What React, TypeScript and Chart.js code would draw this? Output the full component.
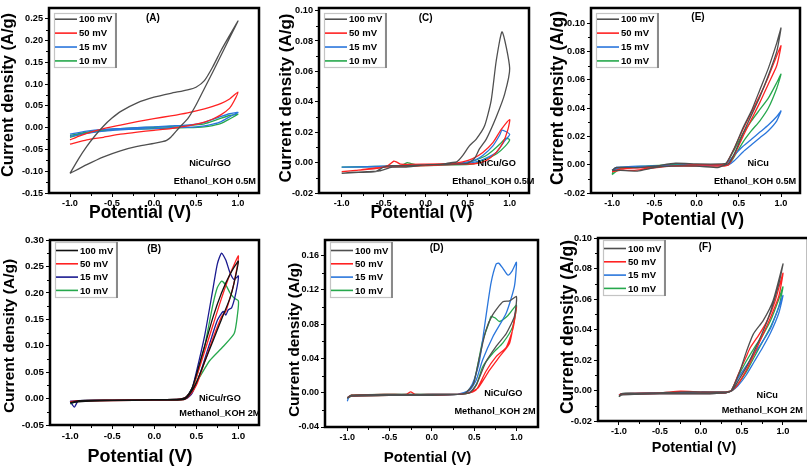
import React, { useEffect, useRef } from "react";
import { Chart, registerables } from "chart.js";
Chart.register(...registerables);

const FONT = "'Liberation Sans', Arial, Helvetica, sans-serif";
const SCAN_RATES = ["100 mV", "50 mV", "15 mV", "10 mV"];
const X_TICKS = [-1.0, -0.5, 0.0, 0.5, 1.0];

const A_TICKS = [-0.15, -0.1, -0.05, 0.0, 0.05, 0.1, 0.15, 0.2, 0.25];
const A100_V = [-1.0, -0.9, -0.8, -0.7, -0.6, -0.5, -0.4, -0.2, 0, 0.2, 0.4, 0.5, 0.6, 0.7, 0.8, 0.9, 1.0, 0.9, 0.8, 0.7, 0.6, 0.5, 0.4, 0.3, 0.2, 0.15, 0.1, 0, -0.2, -0.4, -0.6, -0.8, -1.0];
const A100_J = [-0.105, -0.072, -0.043, -0.018, 0.004, 0.022, 0.037, 0.057, 0.07, 0.079, 0.087, 0.093, 0.108, 0.14, 0.178, 0.212, 0.245, 0.206, 0.167, 0.128, 0.09, 0.052, 0.02, 0.0, -0.022, -0.029, -0.032, -0.036, -0.043, -0.053, -0.067, -0.085, -0.105];
const A50_V = [-1.0, -0.9, -0.8, -0.6, -0.4, -0.2, 0, 0.2, 0.4, 0.6, 0.7, 0.8, 0.9, 1.0, 0.95, 0.9, 0.8, 0.7, 0.6, 0.5, 0.4, 0.2, 0, -0.2, -0.4, -0.6, -0.8, -1.0];
const A50_J = [-0.028, -0.02, -0.013, -0.002, 0.006, 0.014, 0.021, 0.027, 0.034, 0.043, 0.049, 0.056, 0.066, 0.082, 0.06, 0.045, 0.03, 0.02, 0.013, 0.008, 0.004, -0.002, -0.006, -0.01, -0.015, -0.022, -0.028, -0.038];
const A15_V = [-1.0, -0.8, -0.6, -0.4, -0.2, 0, 0.2, 0.4, 0.5, 0.6, 0.7, 0.8, 0.9, 1.0, 0.9, 0.8, 0.7, 0.6, 0.5, 0.4, 0.2, 0, -0.2, -0.4, -0.6, -0.8, -1.0];
const A15_J = [-0.015, -0.008, -0.004, -0.002, 0.0, 0.002, 0.004, 0.006, 0.008, 0.012, 0.019, 0.026, 0.032, 0.035, 0.025, 0.014, 0.008, 0.004, 0.002, 0.001, 0.0, -0.002, -0.003, -0.005, -0.008, -0.013, -0.02];
const A10_V = [-1.0, -0.8, -0.6, -0.4, -0.2, 0, 0.2, 0.4, 0.6, 0.7, 0.8, 0.9, 1.0, 0.9, 0.8, 0.7, 0.6, 0.4, 0.2, 0, -0.2, -0.4, -0.6, -0.8, -1.0];
const A10_J = [-0.018, -0.01, -0.005, -0.002, 0.0, 0.001, 0.003, 0.005, 0.009, 0.015, 0.022, 0.028, 0.031, 0.02, 0.01, 0.005, 0.002, 0.0, -0.001, -0.002, -0.003, -0.004, -0.007, -0.012, -0.022];

const C_TICKS = [-0.02, 0.0, 0.02, 0.04, 0.06, 0.08, 0.1];
const C100_V = [-1.0, -0.8, -0.6, -0.5, -0.4, -0.25, 0, 0.2, 0.3, 0.37, 0.44, 0.52, 0.6, 0.7, 0.78, 0.84, 0.91, 1.0, 0.94, 0.84, 0.72, 0.64, 0.58, 0.5, 0.3, 0, -0.25, -0.4, -0.55, -0.7, -0.9, -1.0];
const C100_J = [-0.007, -0.0065, -0.006, -0.003, -0.002, -0.002, -0.0015, -0.001, 0.0, 0.0005, 0.0046, 0.011, 0.0153, 0.024, 0.041, 0.067, 0.086, 0.062, 0.045, 0.03, 0.0153, 0.009, 0.0026, -0.0005, -0.001, -0.0015, -0.003, -0.003, -0.0055, -0.006, -0.0065, -0.007];
const C50_V = [-1.0, -0.8, -0.6, -0.45, -0.38, -0.35, -0.3, 0, 0.3, 0.44, 0.56, 0.68, 0.8, 0.9, 1.0, 0.98, 0.92, 0.84, 0.72, 0.6, 0.4, 0.2, 0, -0.3, -0.6, -0.8, -1.0];
const C50_J = [-0.006, -0.005, -0.004, -0.002, 0.001, 0.0005, -0.001, -0.001, -0.0005, 0.0005, 0.0026, 0.0067, 0.0131, 0.0218, 0.0283, 0.022, 0.013, 0.0067, 0.0013, -0.0006, -0.001, -0.0015, -0.002, -0.0025, -0.0035, -0.005, -0.006];
const C15_V = [-1.0, -0.6, -0.3, 0, 0.3, 0.5, 0.6, 0.68, 0.8, 0.88, 0.91, 1.0, 0.94, 0.84, 0.72, 0.6, 0.4, 0, -0.4, -0.8, -1.0];
const C15_J = [-0.003, -0.0025, -0.002, -0.0015, -0.001, 0.0005, 0.002, 0.0046, 0.011, 0.018, 0.0214, 0.0186, 0.0143, 0.0067, 0.003, 0.0005, -0.001, -0.0015, -0.0025, -0.003, -0.003];
const C10_V = [-1.0, -0.6, -0.3, -0.22, -0.18, -0.1, 0.3, 0.5, 0.7, 0.8, 0.9, 0.95, 1.0, 0.95, 0.85, 0.7, 0.55, 0.3, 0, -0.5, -1.0];
const C10_J = [-0.003, -0.0025, -0.002, 0.0, -0.0005, -0.0015, -0.001, 0.0, 0.004, 0.008, 0.013, 0.016, 0.015, 0.011, 0.006, 0.002, -0.001, -0.0015, -0.002, -0.0025, -0.003];

const E_TICKS = [-0.02, 0.0, 0.02, 0.04, 0.06, 0.08, 0.1];
const E100_V = [-1.0, -0.95, -0.7, -0.5, -0.25, 0, 0.3, 0.35, 0.45, 0.55, 0.65, 0.75, 0.85, 0.95, 1.0, 0.95, 0.85, 0.75, 0.65, 0.55, 0.45, 0.38, 0.3, 0.25, 0, -0.3, -0.5, -0.7, -0.9, -1.0];
const E100_J = [-0.004, -0.002, -0.002, -0.001, 0.001, 0.0005, 0.0005, 0.001, 0.012, 0.026, 0.038, 0.053, 0.068, 0.086, 0.0965, 0.08, 0.063, 0.048, 0.035, 0.022, 0.008, 0.001, -0.001, -0.002, -0.001, -0.001, -0.002, -0.0045, -0.004, -0.004];
const E50_V = [-1.0, -0.9, -0.6, -0.3, 0, 0.3, 0.35, 0.45, 0.55, 0.65, 0.75, 0.85, 0.95, 1.0, 0.95, 0.85, 0.75, 0.65, 0.55, 0.45, 0.38, 0.3, 0, -0.3, -0.6, -0.75, -0.9, -1.0];
const E50_J = [-0.005, -0.003, -0.002, -0.001, 0.0, 0.0, 0.0005, 0.012, 0.025, 0.037, 0.049, 0.062, 0.077, 0.084, 0.07, 0.057, 0.044, 0.032, 0.02, 0.007, 0.0, -0.001, -0.001, -0.001, -0.003, -0.004, -0.004, -0.005];
const E15_V = [-1.0, -0.95, -0.6, -0.3, 0, 0.3, 0.35, 0.45, 0.55, 0.65, 0.75, 0.85, 0.95, 1.0, 0.95, 0.85, 0.75, 0.65, 0.55, 0.45, 0.38, 0.3, 0, -0.5, -0.9, -1.0];
const E15_J = [-0.004, -0.002, -0.001, -0.0005, 0.0, 0.0, 0.0005, 0.007, 0.013, 0.018, 0.023, 0.028, 0.034, 0.038, 0.031, 0.024, 0.019, 0.014, 0.009, 0.003, 0.0, -0.0005, -0.0005, -0.001, -0.002, -0.004];
const E10_V = [-1.0, -0.98, -0.9, -0.6, -0.3, 0, 0.3, 0.35, 0.45, 0.55, 0.65, 0.75, 0.85, 0.95, 1.0, 0.95, 0.85, 0.75, 0.65, 0.55, 0.45, 0.38, 0.3, 0, -0.5, -0.9, -1.0];
const E10_J = [-0.007, -0.004, -0.002, -0.001, 0.0, 0.0, 0.0, 0.0005, 0.011, 0.022, 0.031, 0.039, 0.047, 0.058, 0.064, 0.054, 0.04, 0.031, 0.024, 0.016, 0.006, 0.0, -0.0005, -0.0005, -0.001, -0.003, -0.007];

const B_TICKS = [-0.05, 0.0, 0.05, 0.1, 0.15, 0.2, 0.25, 0.3];
const B100_V = [-1.0, -0.9, -0.5, 0, 0.3, 0.38, 0.45, 0.5, 0.6, 0.7, 0.8, 0.9, 1.0, 0.95, 0.9, 0.8, 0.7, 0.6, 0.5, 0.42, 0.35, 0, -0.5, -0.9, -1.0];
const B100_J = [-0.008, -0.004, -0.003, -0.002, -0.001, 0.003, 0.02, 0.045, 0.1, 0.155, 0.2, 0.235, 0.26, 0.22, 0.19, 0.15, 0.11, 0.07, 0.03, 0.008, -0.002, -0.003, -0.004, -0.006, -0.008];
const B50_V = [-1.0, -0.9, -0.5, 0, 0.3, 0.38, 0.45, 0.5, 0.6, 0.7, 0.8, 0.9, 1.0, 0.95, 0.9, 0.85, 0.8, 0.7, 0.6, 0.5, 0.42, 0.35, 0, -0.5, -0.9, -1.0];
const B50_J = [-0.006, -0.004, -0.003, -0.002, -0.001, 0.003, 0.018, 0.04, 0.09, 0.14, 0.19, 0.235, 0.27, 0.22, 0.19, 0.165, 0.155, 0.115, 0.07, 0.025, 0.006, -0.002, -0.003, -0.004, -0.005, -0.006];
const B15_V = [-1.0, -0.95, -0.9, -0.5, 0, 0.3, 0.38, 0.45, 0.5, 0.6, 0.7, 0.75, 0.8, 0.85, 0.9, 0.95, 1.0, 0.97, 0.92, 0.88, 0.85, 0.82, 0.75, 0.65, 0.55, 0.45, 0.38, 0, -0.5, -0.9, -1.0];
const B15_J = [-0.005, -0.016, -0.004, -0.003, -0.002, -0.001, 0.003, 0.02, 0.05, 0.12, 0.21, 0.255, 0.275, 0.262, 0.238, 0.225, 0.232, 0.2, 0.172, 0.168, 0.158, 0.165, 0.148, 0.1, 0.05, 0.01, 0.0, -0.003, -0.003, -0.004, -0.005];
const B10_V = [-1.0, -0.9, -0.5, 0, 0.3, 0.38, 0.45, 0.5, 0.55, 0.6, 0.65, 0.7, 0.75, 0.8, 0.85, 0.9, 0.95, 1.0, 0.99, 0.95, 0.81, 0.66, 0.54, 0.42, 0.35, 0, -0.5, -0.9, -1.0];
const B10_J = [-0.01, -0.004, -0.003, -0.002, -0.001, 0.003, 0.02, 0.04, 0.07, 0.1, 0.14, 0.18, 0.21, 0.222, 0.215, 0.2, 0.19, 0.185, 0.16, 0.123, 0.097, 0.072, 0.041, 0.01, -0.001, -0.003, -0.003, -0.005, -0.01];

const D_TICKS = [-0.04, 0.0, 0.04, 0.08, 0.12, 0.16];
const D100_V = [-1.0, -0.95, -0.5, 0, 0.3, 0.4, 0.49, 0.565, 0.64, 0.72, 0.84, 0.92, 1.0, 0.976, 0.88, 0.76, 0.64, 0.53, 0.45, 0.3, 0, -0.5, -0.95, -1.0];
const D100_J = [-0.006, -0.003, -0.002, -0.002, -0.002, 0.0, 0.01, 0.042, 0.073, 0.091, 0.106, 0.107, 0.112, 0.089, 0.069, 0.054, 0.036, 0.01, 0.0, -0.002, -0.003, -0.003, -0.004, -0.006];
const D50_V = [-1.0, -0.95, -0.5, -0.3, -0.25, -0.2, 0, 0.3, 0.4, 0.48, 0.55, 0.68, 0.8, 0.92, 1.0, 0.96, 0.88, 0.76, 0.64, 0.53, 0.45, 0.3, 0, -0.5, -0.95, -1.0];
const D50_J = [-0.006, -0.003, -0.002, -0.002, 0.001, -0.002, -0.002, -0.002, -0.001, 0.002, 0.006, 0.026, 0.042, 0.058, 0.1, 0.075, 0.053, 0.042, 0.025, 0.004, 0.0, -0.002, -0.003, -0.003, -0.004, -0.006];
const D15_V = [-1.0, -0.97, -0.5, 0, 0.3, 0.4, 0.45, 0.5, 0.565, 0.64, 0.7, 0.76, 0.79, 0.84, 0.9, 0.95, 1.0, 0.976, 0.88, 0.72, 0.6, 0.526, 0.45, 0.3, 0, -0.5, -0.97, -1.0];
const D15_J = [-0.01, -0.004, -0.003, -0.002, -0.002, 0.0, 0.005, 0.015, 0.038, 0.089, 0.128, 0.15, 0.151, 0.145, 0.137, 0.142, 0.152, 0.124, 0.093, 0.065, 0.038, 0.015, 0.003, -0.002, -0.003, -0.003, -0.004, -0.01];
const D10_V = [-1.0, -0.95, -0.5, 0, 0.3, 0.4, 0.49, 0.55, 0.6, 0.68, 0.7, 0.75, 0.8, 0.9, 1.0, 0.956, 0.84, 0.72, 0.6, 0.53, 0.45, 0.3, 0, -0.5, -0.95, -1.0];
const D10_J = [-0.007, -0.003, -0.002, -0.002, -0.002, 0.0, 0.01, 0.036, 0.06, 0.083, 0.089, 0.087, 0.083, 0.09, 0.102, 0.077, 0.058, 0.046, 0.03, 0.01, 0.0, -0.002, -0.003, -0.003, -0.004, -0.007];

const F_TICKS = [-0.02, 0.0, 0.02, 0.04, 0.06, 0.08, 0.1];
const F100_V = [-1.0, -0.97, -0.8, -0.5, -0.25, 0, 0.3, 0.37, 0.476, 0.557, 0.638, 0.76, 0.88, 1.0, 0.95, 0.85, 0.75, 0.65, 0.55, 0.45, 0.38, 0.3, 0, -0.5, -0.8, -0.97, -1.0];
const F100_J = [-0.004, -0.002, -0.002, -0.0015, -0.001, -0.001, -0.001, 0.0, 0.013, 0.026, 0.037, 0.046, 0.059, 0.083, 0.07, 0.052, 0.038, 0.026, 0.015, 0.006, 0.0, -0.0015, -0.002, -0.002, -0.0025, -0.003, -0.004];
const F50_V = [-1.0, -0.97, -0.5, -0.25, 0, 0.3, 0.37, 0.45, 0.55, 0.6, 0.7, 0.8, 0.9, 1.0, 0.95, 0.85, 0.75, 0.65, 0.55, 0.45, 0.38, 0.3, 0, -0.5, -0.97, -1.0];
const F50_J = [-0.003, -0.002, -0.0015, -0.0005, -0.001, -0.001, 0.0, 0.01, 0.022, 0.028, 0.036, 0.045, 0.058, 0.077, 0.062, 0.048, 0.036, 0.024, 0.013, 0.004, 0.0, -0.0015, -0.002, -0.002, -0.0025, -0.003];
const F15_V = [-1.0, -0.97, -0.5, 0, 0.3, 0.37, 0.45, 0.55, 0.65, 0.75, 0.85, 0.95, 1.0, 0.95, 0.85, 0.75, 0.65, 0.55, 0.45, 0.38, 0.3, 0, -0.5, -0.97, -1.0];
const F15_J = [-0.003, -0.002, -0.0015, -0.001, -0.001, 0.0, 0.008, 0.016, 0.024, 0.032, 0.041, 0.055, 0.0623, 0.051, 0.038, 0.028, 0.019, 0.01, 0.003, 0.0, -0.0015, -0.002, -0.002, -0.0025, -0.003];
const F10_V = [-1.0, -0.97, -0.5, 0, 0.3, 0.37, 0.45, 0.55, 0.65, 0.75, 0.85, 0.95, 1.0, 0.95, 0.85, 0.75, 0.65, 0.55, 0.45, 0.38, 0.3, 0, -0.5, -0.97, -1.0];
const F10_J = [-0.004, -0.002, -0.0015, -0.001, -0.001, 0.0, 0.009, 0.019, 0.028, 0.036, 0.046, 0.06, 0.068, 0.055, 0.042, 0.032, 0.022, 0.012, 0.004, 0.0, -0.0015, -0.002, -0.002, -0.0025, -0.004];

const GRAY = "#4f4f4f";
const BLACK = "#111111";
const RED = "#ff2222";
const BLUE = "#2a76dc";
const NAVY = "#1a1a90";
const GREEN = "#26a84c";

type Txt = { cx: number; cy: number; size: number };
type PanelCfg = {
  tag: string; material: string; solution: string;
  series: [number[], number[]][]; colors: string[]; yTicks: number[];
  xRange: [number, number]; yRange: [number, number];
  box: { x: number; y: number; w: number; h: number };
  pad: { l: number; t: number; r: number; xh: number };
  tickSize: number; xTitle: Txt; yTitle: Txt;
  tagPos: [number, number]; matPos: [number, number]; solPos: [number, number];
  legend: { dx: number; dy: number; w: number; h: number; r0: number; dr: number };
};

const LEG_TOP = { dx: 5, dy: 5, w: 61, h: 54, r0: 11.7, dr: 13.9 };
const LEG_BOT = { dx: 5, dy: 2, w: 61, h: 55, r0: 10.5, dr: 13.3 };

const PANELS: PanelCfg[] = [
  {
    tag: "(A)", material: "NiCu/rGO", solution: "Ethanol_KOH 0.5M",
    series: [[A100_V, A100_J], [A50_V, A50_J], [A15_V, A15_J], [A10_V, A10_J]],
    colors: [GRAY, RED, BLUE, GREEN], yTicks: A_TICKS,
    xRange: [-1.25, 1.25], yRange: [-0.15, 0.276],
    box: { x: 0, y: 0, w: 270, h: 230 }, pad: { l: 49, t: 4, r: 11, xh: 37 }, tickSize: 9.2,
    xTitle: { cx: 140, cy: 213, size: 17.5 }, yTitle: { cx: 8.7, cy: 95, size: 16.5 },
    tagPos: [0.495, 0.058], matPos: [0.767, 0.843], solPos: [0.79, 0.94], legend: LEG_TOP,
  },
  {
    tag: "(C)", material: "NiCu/GO", solution: "Ethanol_KOH 0.5M",
    series: [[C100_V, C100_J], [C50_V, C50_J], [C15_V, C15_J], [C10_V, C10_J]],
    colors: [GRAY, RED, BLUE, GREEN], yTicks: C_TICKS,
    xRange: [-1.27, 1.23], yRange: [-0.02, 0.102],
    box: { x: 270, y: 0, w: 270, h: 230 }, pad: { l: 49, t: 4, r: 11, xh: 37 }, tickSize: 9.2,
    xTitle: { cx: 151.5, cy: 213, size: 17.5 }, yTitle: { cx: 16.7, cy: 98, size: 17 },
    tagPos: [0.508, 0.058], matPos: [0.846, 0.843], solPos: [0.83, 0.94], legend: LEG_TOP,
  },
  {
    tag: "(E)", material: "NiCu", solution: "Ethanol_KOH 0.5M",
    series: [[E100_V, E100_J], [E50_V, E50_J], [E15_V, E15_J], [E10_V, E10_J]],
    colors: [GRAY, RED, BLUE, GREEN], yTicks: E_TICKS,
    xRange: [-1.25, 1.225], yRange: [-0.02, 0.111],
    box: { x: 540, y: 0, w: 267, h: 230 }, pad: { l: 51, t: 5, r: 7, xh: 37 }, tickSize: 9.2,
    xTitle: { cx: 153, cy: 220, size: 17.5 }, yTitle: { cx: 18.3, cy: 98, size: 17.5 },
    tagPos: [0.512, 0.053], matPos: [0.8, 0.842], solPos: [0.785, 0.94], legend: LEG_TOP,
  },
  {
    tag: "(B)", material: "NiCu/rGO", solution: "Methanol_KOH 2M",
    series: [[B100_V, B100_J], [B50_V, B50_J], [B15_V, B15_J], [B10_V, B10_J]],
    colors: [BLACK, RED, NAVY, GREEN], yTicks: B_TICKS,
    xRange: [-1.24, 1.245], yRange: [-0.05, 0.3],
    box: { x: 0, y: 230, w: 270, h: 237 }, pad: { l: 50, t: 10, r: 11, xh: 42 }, tickSize: 9.8,
    xTitle: { cx: 140, cy: 226.7, size: 18 }, yTitle: { cx: 9.7, cy: 106, size: 15.5 },
    tagPos: [0.498, 0.05], matPos: [0.813, 0.855], solPos: [0.813, 0.936], legend: LEG_BOT,
  },
  {
    tag: "(D)", material: "NiCu/GO", solution: "Methanol_KOH 2M",
    series: [[D100_V, D100_J], [D50_V, D50_J], [D15_V, D15_J], [D10_V, D10_J]],
    colors: [GRAY, RED, BLUE, GREEN], yTicks: D_TICKS,
    xRange: [-1.263, 1.255], yRange: [-0.04, 0.178],
    box: { x: 270, y: 230, w: 270, h: 237 }, pad: { l: 55, t: 10, r: 2, xh: 40 }, tickSize: 9,
    xTitle: { cx: 157.5, cy: 228, size: 15 }, yTitle: { cx: 25, cy: 110, size: 15.5 },
    tagPos: [0.524, 0.044], matPos: [0.837, 0.82], solPos: [0.798, 0.918], legend: LEG_BOT,
  },
  {
    tag: "(F)", material: "NiCu", solution: "Methanol_KOH 2M",
    series: [[F100_V, F100_J], [F50_V, F50_J], [F15_V, F15_J], [F10_V, F10_J]],
    colors: [GRAY, RED, BLUE, GREEN], yTicks: F_TICKS,
    xRange: [-1.256, 1.305], yRange: [-0.02, 0.1],
    box: { x: 540, y: 230, w: 280, h: 237 }, pad: { l: 58, t: 8, r: 12, xh: 46 }, tickSize: 9.3,
    xTitle: { cx: 154, cy: 218.3, size: 14.5 }, yTitle: { cx: 28, cy: 97, size: 17.5 },
    tagPos: [0.51, 0.048], matPos: [0.806, 0.858], solPos: [0.782, 0.94], legend: LEG_BOT,
  },
];

function decorPlugin(cfg: PanelCfg) {
  return {
    id: "panelDecor",
    afterDraw(chart: any) {
      const ctx: CanvasRenderingContext2D = chart.ctx;
      const a = chart.chartArea;
      const left = a.left;
      const top = a.top;
      const w = a.right - a.left;
      const h = a.bottom - a.top;
      const xs = chart.scales.x;
      const ys = chart.scales.y;
      const L = Math.round(a.left), R = Math.round(a.right), T = Math.round(a.top), B = Math.round(a.bottom);
      ctx.save();
      // plot frame
      ctx.strokeStyle = "#000";
      ctx.lineWidth = 2.5;
      ctx.beginPath();
      ctx.moveTo(L, T);
      ctx.lineTo(R, T);
      ctx.lineTo(R, B);
      ctx.lineTo(L, B);
      ctx.closePath();
      ctx.stroke();
      // minor ticks
      ctx.fillStyle = "#000";
      for (let i = 0; i < X_TICKS.length - 1; i++) {
        const px = Math.round(xs.getPixelForValue((X_TICKS[i] + X_TICKS[i + 1]) / 2));
        ctx.fillRect(px, B, 1, 3);
      }
      for (let i = 0; i < cfg.yTicks.length - 1; i++) {
        const py = Math.round(ys.getPixelForValue((cfg.yTicks[i] + cfg.yTicks[i + 1]) / 2));
        ctx.fillRect(L - 3, py, 3, 1);
      }
      // legend
      const Lg = cfg.legend;
      const lx = Math.round(left + Lg.dx);
      const ly = Math.round(top + Lg.dy);
      ctx.strokeStyle = "#c4c4c4";
      ctx.lineWidth = 1.2;
      ctx.strokeRect(lx + 0.5, ly + 0.5, Lg.w, Lg.h);
      ctx.fillStyle = "#8a8a8a";
      ctx.fillRect(lx + Lg.w, ly, 2, Lg.h + 1);
      ctx.font = `bold 9.5px ${FONT}`;
      ctx.textBaseline = "middle";
      ctx.textAlign = "left";
      SCAN_RATES.forEach((label, i) => {
        const ry = top + Lg.r0 + i * Lg.dr;
        ctx.strokeStyle = cfg.colors[i];
        ctx.lineWidth = 1.6;
        ctx.beginPath();
        ctx.moveTo(left + 6, ry);
        ctx.lineTo(left + 28, ry);
        ctx.stroke();
        ctx.fillStyle = "#000";
        ctx.fillText(label, left + 30, ry + 0.5);
      });
      ctx.textAlign = "center";
      ctx.fillStyle = "#000";
      ctx.font = `bold 10px ${FONT}`;
      ctx.fillText(cfg.tag, left + cfg.tagPos[0] * w, top + cfg.tagPos[1] * h);
      ctx.font = `bold 9.2px ${FONT}`;
      ctx.fillText(cfg.material, left + cfg.matPos[0] * w, top + cfg.matPos[1] * h);
      ctx.fillText(cfg.solution, left + cfg.solPos[0] * w, top + cfg.solPos[1] * h);
      ctx.font = `bold ${cfg.xTitle.size}px ${FONT}`;
      ctx.fillText("Potential (V)", cfg.xTitle.cx, cfg.xTitle.cy);
      ctx.translate(cfg.yTitle.cx, cfg.yTitle.cy);
      ctx.rotate(-Math.PI / 2);
      ctx.font = `bold ${cfg.yTitle.size}px ${FONT}`;
      ctx.fillText("Current density (A/g)", 0, 0);
      ctx.restore();
    },
  };
}

function Panel({ cfg }: { cfg: PanelCfg }) {
  const ref = useRef<HTMLCanvasElement>(null);
  useEffect(() => {
    const canvas = ref.current;
    if (!canvas) return;
    const tickFont = { family: FONT, size: cfg.tickSize, weight: "bold" as const };
    const chart = new Chart(canvas, {
      type: "scatter",
      data: {
        datasets: cfg.series.map(([v, j], i) => ({
          label: SCAN_RATES[i],
          data: v.map((x, k) => ({ x, y: j[k] })),
          showLine: true,
          borderColor: cfg.colors[i],
          backgroundColor: cfg.colors[i],
          borderWidth: 1.3,
          pointRadius: 0,
          tension: 0.2,
          fill: false,
        })),
      },
      options: {
        animation: false,
        responsive: false,
        devicePixelRatio: 1,
        events: [],
        layout: { padding: { left: 0, top: cfg.pad.t, right: cfg.pad.r, bottom: 0 } },
        plugins: { legend: { display: false }, tooltip: { enabled: false }, title: { display: false } },
        scales: {
          x: {
            type: "linear", position: "bottom",
            min: cfg.xRange[0], max: cfg.xRange[1],
            afterBuildTicks: (s: any) => { s.ticks = X_TICKS.map((v) => ({ value: v })); },
            afterFit: (s: any) => { s.height = cfg.pad.xh; },
            ticks: { autoSkip: false, maxRotation: 0, padding: 1, color: "#000", font: tickFont, callback: (v: any) => Number(v).toFixed(1) },
            grid: { display: true, drawOnChartArea: false, drawTicks: true, tickLength: 4, color: "#000", lineWidth: 1 },
            border: { display: true, color: "#000", width: 2 },
          },
          y: {
            type: "linear", position: "left",
            min: cfg.yRange[0], max: cfg.yRange[1],
            afterBuildTicks: (s: any) => { s.ticks = cfg.yTicks.map((v) => ({ value: v })); },
            afterFit: (s: any) => { s.width = cfg.pad.l; },
            ticks: { autoSkip: false, padding: 2, color: "#000", font: tickFont, callback: (v: any) => Number(v).toFixed(2) },
            grid: { display: true, drawOnChartArea: false, drawTicks: true, tickLength: 4, color: "#000", lineWidth: 1 },
            border: { display: true, color: "#000", width: 2 },
          },
        },
      },
      plugins: [decorPlugin(cfg)],
    } as any);
    return () => chart.destroy();
  }, [cfg]);
  return (
    <canvas
      ref={ref}
      width={cfg.box.w}
      height={cfg.box.h}
      style={{ position: "absolute", left: cfg.box.x, top: cfg.box.y, width: cfg.box.w, height: cfg.box.h }}
    />
  );
}

export default function App() {
  return (
    <div style={{ position: "absolute", left: 0, top: 0, width: 807, height: 467, overflow: "hidden", background: "#fff" }}>
      {PANELS.map((p) => (
        <Panel key={p.tag} cfg={p} />
      ))}
    </div>
  );
}
